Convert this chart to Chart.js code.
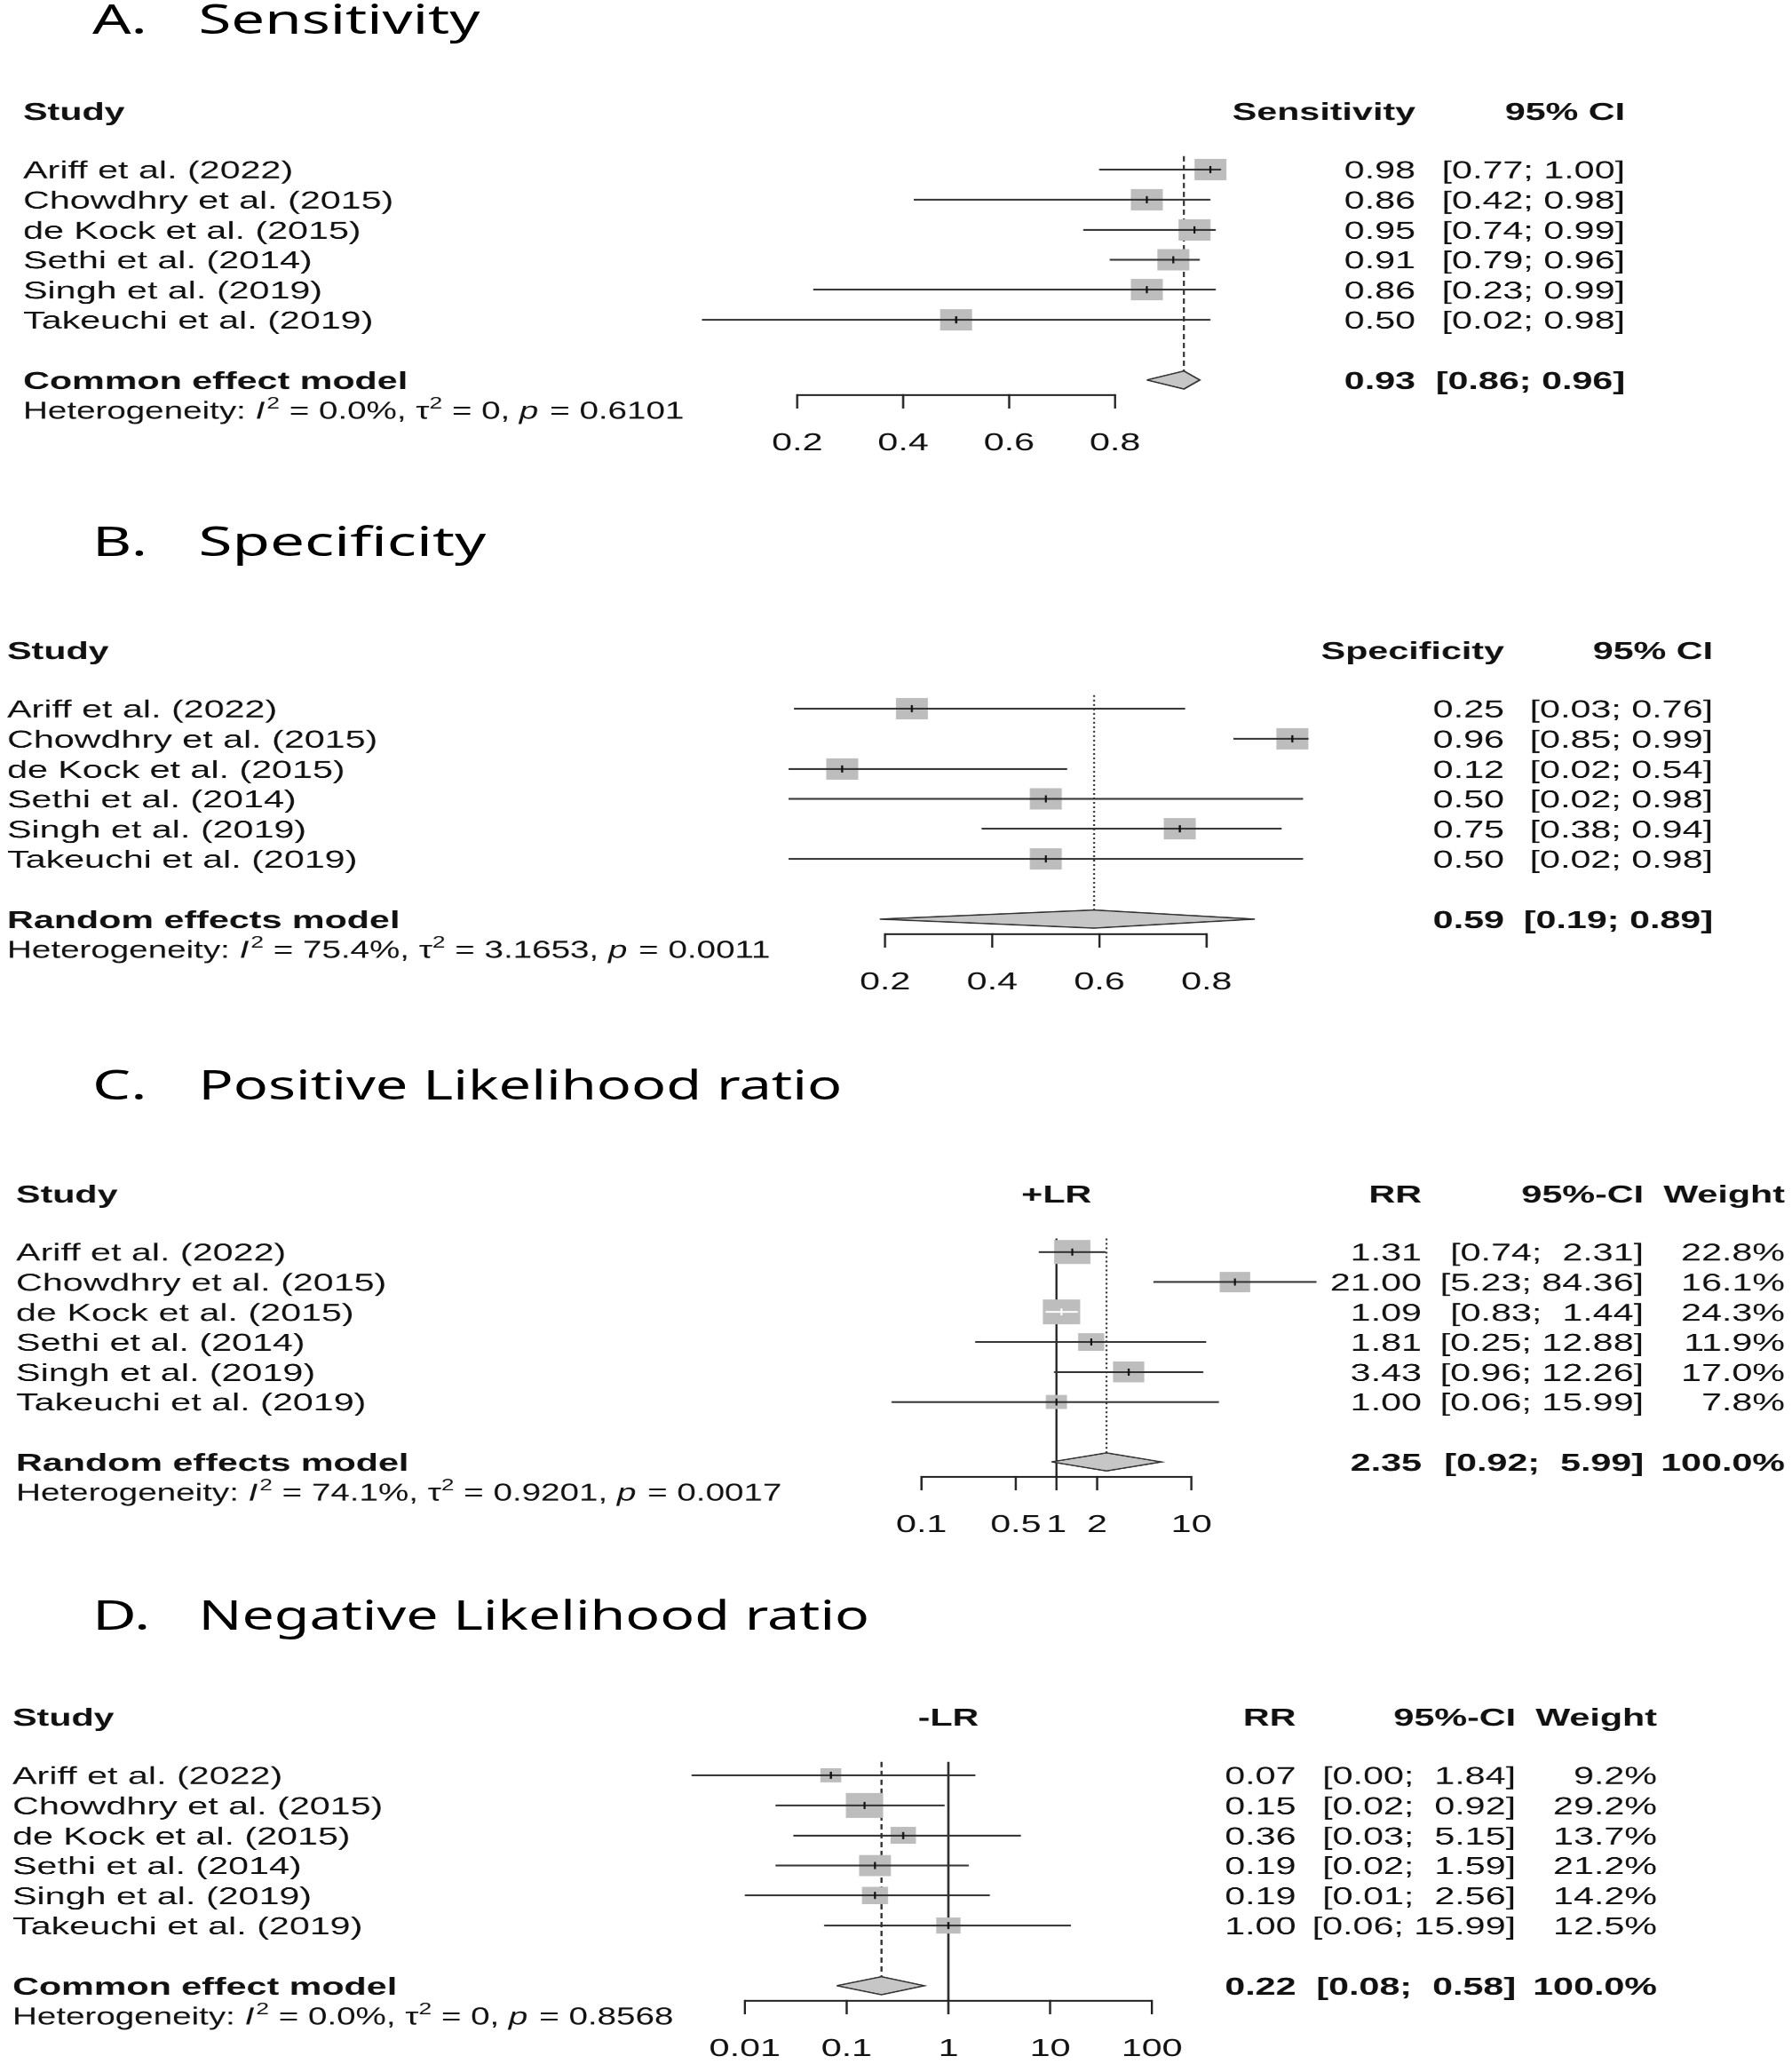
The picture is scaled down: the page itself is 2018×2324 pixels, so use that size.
<!DOCTYPE html>
<html>
<head>
<meta charset="utf-8">
<title>Forest plots</title>
<script src="https://cdn.jsdelivr.net/npm/chart.js@4.4.1/dist/chart.umd.min.js"></script>
<style>
  html, body { margin: 0; padding: 0; background: #fff; }
  /* the reference figure is an R forest plot stretched 1.5x sideways */
  #figure { position: relative; width: 1345.333px; height: 2324px; transform: scaleX(1.5); transform-origin: 0 0; overflow: hidden; }
  .title { position: absolute; font-family: "Noto Sans", sans-serif; font-size: 45.5px; line-height: 1; color: #000; white-space: nowrap; transform-origin: 0 0; }
  .panel { position: absolute; left: 0; width: 1345.333px; }
</style>
</head>
<body>
<div id="figure"></div>
<script>
  const FONT = '"Liberation Sans", Arial, sans-serif';
  const TEXT_SIZE = 27.5;
  const ROW_PX = 33.8;
  const STRETCH = 1.5;
  const Y_MIN = -1.6;
  const Y_MAX = 10.7;
  const HET_SQUEEZE = 0.935;
  const TEXT_COLOR = "#111";
  const LINE_COLOR = "#333";

  const studies = [
    "Ariff et al. (2022)",
    "Chowdhry et al. (2015)",
    "de Kock et al. (2015)",
    "Sethi et al. (2014)",
    "Singh et al. (2019)",
    "Takeuchi et al. (2019)",
  ];

  // pooled arrays are [estimate, lower, upper]
  const sensEst = [0.98, 0.86, 0.95, 0.91, 0.86, 0.5];
  const sensLo = [0.77, 0.42, 0.74, 0.79, 0.23, 0.02];
  const sensHi = [1.0, 0.98, 0.99, 0.96, 0.99, 0.98];
  const sensPooled = [0.93, 0.86, 0.96];

  const specEst = [0.25, 0.96, 0.12, 0.5, 0.75, 0.5];
  const specLo = [0.03, 0.85, 0.02, 0.02, 0.38, 0.02];
  const specHi = [0.76, 0.99, 0.54, 0.98, 0.94, 0.98];
  const specPooled = [0.59, 0.19, 0.89];

  const plrEst = [1.31, 21.0, 1.09, 1.81, 3.43, 1.0];
  const plrLo = [0.74, 5.23, 0.83, 0.25, 0.96, 0.06];
  const plrHi = [2.31, 84.36, 1.44, 12.88, 12.26, 15.99];
  const plrWeight = [22.8, 16.1, 24.3, 11.9, 17.0, 7.8];
  const plrPooled = [2.35, 0.92, 5.99];

  const nlrEst = [0.07, 0.15, 0.36, 0.19, 0.19, 1.0];
  const nlrLo = [0.003, 0.02, 0.03, 0.02, 0.01, 0.06];
  const nlrHi = [1.84, 0.92, 5.15, 1.59, 2.56, 15.99];
  const nlrWeight = [9.2, 29.2, 13.7, 21.2, 14.2, 12.5];
  const nlrPooled = [0.22, 0.08, 0.58];

  const propTicks = [0.2, 0.4, 0.6, 0.8];
  const propTickLabels = ["0.2", "0.4", "0.6", "0.8"];
  const plrTicks = [0.1, 0.5, 1, 2, 10];
  const plrTickLabels = ["0.1", "0.5", "1", "2", "10"];
  const nlrTicks = [0.01, 0.1, 1, 10, 100];
  const nlrTickLabels = ["0.01", "0.1", "1", "10", "100"];

  const hetI2 = ["0.0%", "75.4%", "74.1%", "0.0%"];
  const hetTau2 = ["0", "3.1653", "0.9201", "0"];
  const hetP = ["0.6101", "0.0011", "0.0017", "0.8568"];

  // layout measured on the reference (page pixels)
  const panels = [
    {
      letter: "A.", title: "Sensitivity", titleWidth: 317, titleBaseline: 38, row1: 191, labelX: 26,
      est: sensEst, lo: sensLo, hi: sensHi, weight: null, pooled: sensPooled,
      model: "Common effect model", het: 0, ticks: propTicks, tickLabels: propTickLabels,
      axis: { type: "linear", origin: 778.5, unit: 596.5 }, refDash: [6, 4], nullLine: false,
      headers: [{ text: "Sensitivity", x: 1594 }, { text: "95% CI", x: 1830 }],
      columns: [1594, 1830],
    },
    {
      letter: "B.", title: "Specificity", titleWidth: 324, titleBaseline: 626, row1: 798, labelX: 8,
      est: specEst, lo: specLo, hi: specHi, weight: null, pooled: specPooled,
      model: "Random effects model", het: 1, ticks: propTicks, tickLabels: propTickLabels,
      axis: { type: "linear", origin: 876, unit: 603.5 }, refDash: [2, 3], nullLine: false,
      headers: [{ text: "Specificity", x: 1694 }, { text: "95% CI", x: 1929 }],
      columns: [1694, 1929],
    },
    {
      letter: "C.", title: "Positive Likelihood ratio", titleWidth: 724, titleBaseline: 1238, row1: 1409.5, labelX: 18,
      est: plrEst, lo: plrLo, hi: plrHi, weight: plrWeight, pooled: plrPooled,
      model: "Random effects model", het: 2, ticks: plrTicks, tickLabels: plrTickLabels,
      axis: { type: "logarithmic", origin: 1189.7, unit: 152 }, refDash: [2, 3], nullLine: true,
      headers: [{ text: "+LR", center: 1 }, { text: "RR", x: 1601 }, { text: "95%-CI", x: 1851 }, { text: "Weight", x: 2010 }],
      columns: [1601, 1851, 2010],
    },
    {
      letter: "D.", title: "Negative Likelihood ratio", titleWidth: 756, titleBaseline: 1835, row1: 1999, labelX: 14,
      est: nlrEst, lo: nlrLo, hi: nlrHi, weight: nlrWeight, pooled: nlrPooled,
      model: "Common effect model", het: 3, ticks: nlrTicks, tickLabels: nlrTickLabels,
      axis: { type: "logarithmic", origin: 1068, unit: 114.6 }, refDash: [6, 4], nullLine: true,
      headers: [{ text: "-LR", center: 1 }, { text: "RR", x: 1459.5 }, { text: "95%-CI", x: 1707 }, { text: "Weight", x: 1866 }],
      columns: [1459.5, 1707, 1866],
    },
  ];

  function font(size, bold, italic) {
    return `${italic ? "italic " : ""}${bold ? "bold " : ""}${size}px ${FONT}`;
  }

  function fmtCI(lo, hi, loWidth, hiWidth) {
    return `[${lo.toFixed(2).padStart(loWidth)}; ${hi.toFixed(2).padStart(hiWidth)}]`;
  }

  function drawRuns(ctx, runs, x, y) {
    let cx = 0;
    ctx.save();
    ctx.translate(x, y);
    ctx.scale(HET_SQUEEZE, 1);
    ctx.textAlign = "left";
    runs.forEach((run) => {
      const size = run.sup ? TEXT_SIZE * 0.68 : TEXT_SIZE;
      ctx.font = font(size, false, run.italic);
      ctx.fillText(run.text, cx, run.sup ? -TEXT_SIZE * 0.42 : 0);
      cx += ctx.measureText(run.text).width + (run.italic ? 1.5 : 0);
    });
    ctx.restore();
  }

  function squareSides(panel) {
    if (!panel.weight) return panel.est.map(() => 24);
    const maxW = Math.max(...panel.weight);
    return panel.weight.map((w) => 28 * Math.sqrt(w / maxW));
  }

  function insideSquare(chart, est, lo, hi, side) {
    const xs = chart.scales.x;
    const c = xs.getPixelForValue(est);
    return xs.getPixelForValue(lo) >= c - side / 2 && xs.getPixelForValue(hi) <= c + side / 2;
  }

  function textPlugin(panel) {
    return {
      id: "forestText",
      afterDatasetsDraw(chart) {
        const ctx = chart.ctx;
        const xs = chart.scales.x;
        const ys = chart.scales.y;
        const base = (row) => ys.getPixelForValue(row) + TEXT_SIZE * 0.358;
        const px = (pagePx) => pagePx / STRETCH;
        ctx.save();
        ctx.fillStyle = TEXT_COLOR;

        // left column
        ctx.textAlign = "left";
        ctx.font = font(TEXT_SIZE, true);
        ctx.fillText("Study", px(panel.labelX), base(-0.95));
        ctx.font = font(TEXT_SIZE);
        studies.forEach((name, i) => ctx.fillText(name, px(panel.labelX), base(i + 1)));
        ctx.font = font(TEXT_SIZE, true);
        ctx.fillText(panel.model, px(panel.labelX), base(8));
        const h = panel.het;
        drawRuns(ctx, [
          { text: "Heterogeneity: " },
          { text: "I", italic: true },
          { text: "2", sup: true },
          { text: ` = ${hetI2[h]}, ` },
          { text: "\u03c4" },
          { text: "2", sup: true },
          { text: ` = ${hetTau2[h]}, ` },
          { text: "p", italic: true },
          { text: ` = ${hetP[h]}` },
        ], px(panel.labelX), base(9));

        // headers
        ctx.font = font(TEXT_SIZE, true);
        panel.headers.forEach((hd) => {
          if (hd.center !== undefined) {
            ctx.textAlign = "center";
            ctx.fillText(hd.text, xs.getPixelForValue(hd.center), base(-0.95));
          } else {
            ctx.textAlign = "right";
            ctx.fillText(hd.text, px(hd.x), base(-0.95));
          }
        });

        // value columns
        const loW = Math.max(...panel.lo.concat([panel.pooled[1]]).map((v) => v.toFixed(2).length));
        const hiW = Math.max(...panel.hi.concat([panel.pooled[2]]).map((v) => v.toFixed(2).length));
        ctx.textAlign = "right";
        const rows = panel.est.map((e, i) => ({
          cells: [e.toFixed(2), fmtCI(panel.lo[i], panel.hi[i], loW, hiW)]
            .concat(panel.weight ? [panel.weight[i].toFixed(1) + "%"] : []),
          row: i + 1,
          bold: false,
        }));
        rows.push({
          cells: [panel.pooled[0].toFixed(2), fmtCI(panel.pooled[1], panel.pooled[2], loW, hiW)]
            .concat(panel.weight ? ["100.0%"] : []),
          row: 8,
          bold: true,
        });
        rows.forEach((r) => {
          ctx.font = font(TEXT_SIZE, r.bold);
          r.cells.forEach((cell, c) => ctx.fillText(cell, px(panel.columns[c]), base(r.row)));
        });

        // x axis
        const axisY = ys.getPixelForValue(8.5);
        const tickY = ys.getPixelForValue(8.95);
        ctx.strokeStyle = "#222";
        ctx.lineWidth = 2;
        ctx.beginPath();
        ctx.moveTo(xs.getPixelForValue(panel.ticks[0]), axisY);
        ctx.lineTo(xs.getPixelForValue(panel.ticks[panel.ticks.length - 1]), axisY);
        ctx.stroke();
        ctx.lineWidth = 1.6;
        ctx.font = font(TEXT_SIZE);
        ctx.textAlign = "center";
        panel.ticks.forEach((t, i) => {
          const x = xs.getPixelForValue(t);
          ctx.beginPath();
          ctx.moveTo(x, axisY - 1);
          ctx.lineTo(x, tickY);
          ctx.stroke();
          ctx.fillText(panel.tickLabels[i], x, base(10.05));
        });
        ctx.restore();
      },
    };
  }

  function buildDatasets(panel) {
    const sides = squareSides(panel);
    const [pEst, pLo, pHi] = panel.pooled;
    const dh = 0.3;
    const datasets = [];

    datasets.push({
      type: "line",
      data: [{ x: pEst, y: 0.55 }, { x: pEst, y: 8 - dh }],
      borderColor: LINE_COLOR,
      borderWidth: 1.5,
      borderDash: panel.refDash,
      pointRadius: 0,
      order: 10,
    });

    if (panel.nullLine) {
      datasets.push({
        type: "line",
        data: [{ x: 1, y: 0.55 }, { x: 1, y: 8.5 }],
        borderColor: "#222",
        borderWidth: 1.6,
        pointRadius: 0,
        order: 9,
      });
    }

    datasets.push({
      type: "scatter",
      data: panel.est.map((e, i) => ({ x: e, y: i + 1 })),
      pointStyle: "rect",
      pointRadius: sides.map((s) => s / (2 * Math.SQRT1_2)),
      pointBackgroundColor: "#bdbdbd",
      pointBorderWidth: 0,
      order: 6,
    });

    datasets.push({
      type: "line",
      data: [
        { x: pLo, y: 8 },
        { x: pEst, y: 8 - dh },
        { x: pHi, y: 8 },
        { x: pEst, y: 8 + dh },
        { x: pLo, y: 8 },
      ],
      borderColor: LINE_COLOR,
      borderWidth: 1.5,
      backgroundColor: "#c6c6c6",
      fill: "shape",
      tension: 0,
      pointRadius: 0,
      order: 5,
    });

    panel.est.forEach((e, i) => {
      datasets.push({
        type: "line",
        data: [{ x: panel.lo[i], y: i + 1 }, { x: panel.hi[i], y: i + 1 }],
        borderColor: (ctx) => (insideSquare(ctx.chart, e, panel.lo[i], panel.hi[i], sides[i]) ? "#fff" : LINE_COLOR),
        borderWidth: 2,
        pointRadius: 0,
        order: 3,
      });
    });

    datasets.push({
      type: "scatter",
      data: panel.est.map((e, i) => ({ x: e, y: i + 1 })),
      pointStyle: "line",
      pointRotation: 90,
      pointRadius: 4,
      pointBorderWidth: 1.5,
      pointBorderColor: (ctx) => {
        const i = ctx.dataIndex;
        return insideSquare(ctx.chart, panel.est[i], panel.lo[i], panel.hi[i], sides[i]) ? "#fff" : "#111";
      },
      order: 1,
    });

    return datasets;
  }

  function xScale(panel) {
    const { type, origin, unit } = panel.axis;
    const left = (0 - origin) / unit;
    const right = (2018 - origin) / unit;
    if (type === "linear") return { type, min: left, max: right, display: false, bounds: "data" };
    return { type, min: Math.pow(10, left), max: Math.pow(10, right), display: false, bounds: "data" };
  }

  function addTitle(figure, panel) {
    const top = panel.titleBaseline - 40.4;
    [[panel.letter, 104, 0], [panel.title, 223, panel.titleWidth]].forEach(([text, x, width]) => {
      const el = document.createElement("div");
      el.className = "title";
      el.style.left = `${x / STRETCH}px`;
      el.style.top = `${top}px`;
      el.textContent = text;
      figure.appendChild(el);
      if (width) {
        const natural = el.offsetWidth;
        el.style.transform = `scaleX(${width / STRETCH / natural})`;
      }
    });
  }

  function initFigure() {
    const figure = document.getElementById("figure");
    panels.forEach((panel) => {
      addTitle(figure, panel);
      const box = document.createElement("div");
      box.className = "panel";
      box.style.top = `${panel.row1 - (1 - Y_MIN) * ROW_PX}px`;
      box.style.height = `${(Y_MAX - Y_MIN) * ROW_PX}px`;
      const canvas = document.createElement("canvas");
      box.appendChild(canvas);
      figure.appendChild(box);

      new Chart(canvas, {
        type: "scatter",
        data: { datasets: buildDatasets(panel) },
        options: {
          responsive: true,
          maintainAspectRatio: false,
          animation: false,
          devicePixelRatio: 2,
          events: [],
          layout: { padding: 0, autoPadding: false },
          plugins: { legend: { display: false }, tooltip: { enabled: false } },
          scales: {
            x: xScale(panel),
            y: { type: "linear", min: Y_MIN, max: Y_MAX, reverse: true, display: false, bounds: "data" },
          },
        },
        plugins: [textPlugin(panel)],
      });
    });
  }

  window.addEventListener("load", initFigure);
</script>
</body>
</html>
